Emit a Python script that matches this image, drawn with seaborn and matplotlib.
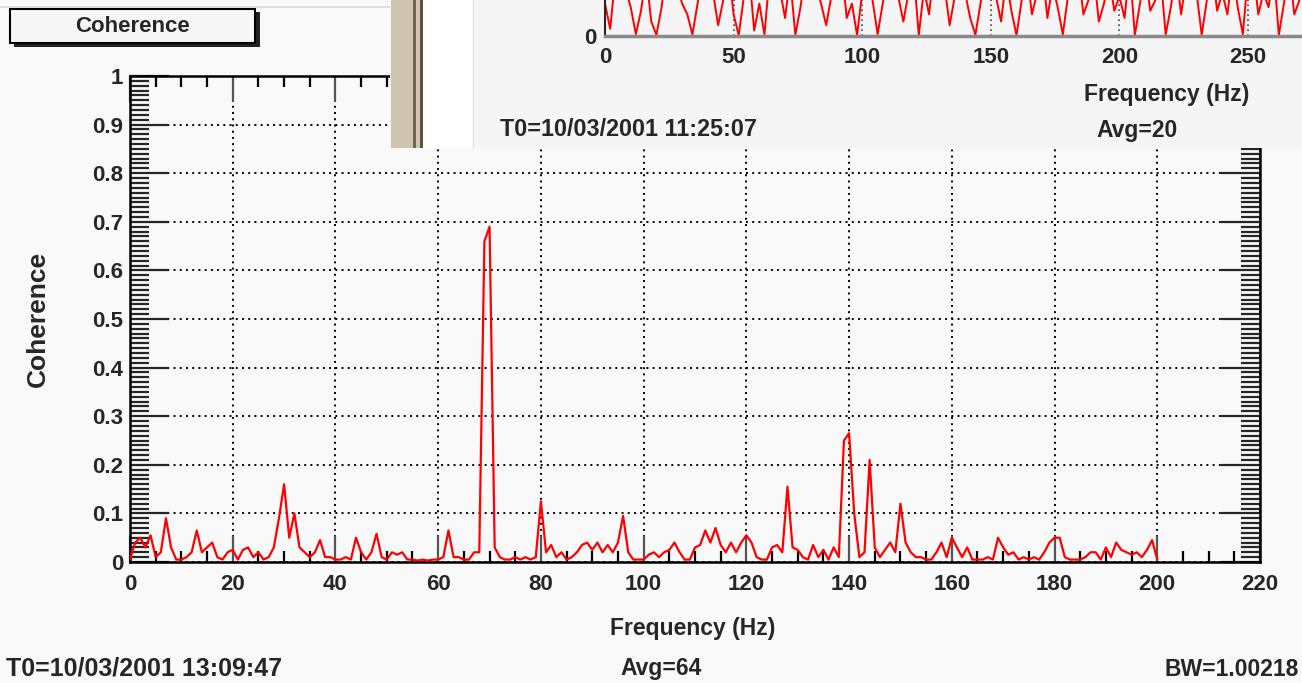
import matplotlib
matplotlib.use("Agg")
import matplotlib.pyplot as plt
from matplotlib.patches import Rectangle
from matplotlib.ticker import MultipleLocator
import seaborn as sns

# main coherence trace, 1 Hz steps, 0..200 Hz
freq = list(range(0, 201))
coherence = [
    0.005, 0.04, 0.05, 0.03, 0.055, 0.01, 0.02, 0.09, 0.03, 0.005,
    0.005, 0.01, 0.02, 0.065, 0.02, 0.03, 0.04, 0.01, 0.005, 0.02,
    0.025, 0.005, 0.025, 0.03, 0.01, 0.02, 0.005, 0.01, 0.03, 0.09,
    0.16, 0.05, 0.10, 0.03, 0.02, 0.01, 0.02, 0.045, 0.01, 0.01,
    0.005, 0.005, 0.01, 0.005, 0.05, 0.02, 0.005, 0.02, 0.058, 0.01,
    0.005, 0.02, 0.015, 0.02, 0.005, 0.005, 0.003, 0.005, 0.003, 0.005,
    0.005, 0.01, 0.065, 0.01, 0.01, 0.005, 0.005, 0.02, 0.02, 0.66,
    0.69, 0.03, 0.01, 0.005, 0.005, 0.01, 0.005, 0.01, 0.005, 0.01,
    0.125, 0.02, 0.035, 0.01, 0.02, 0.005, 0.01, 0.02, 0.035, 0.04,
    0.025, 0.04, 0.02, 0.035, 0.02, 0.04, 0.095, 0.02, 0.005, 0.005,
    0.005, 0.015, 0.02, 0.01, 0.02, 0.025, 0.04, 0.02, 0.005, 0.005,
    0.03, 0.035, 0.065, 0.04, 0.07, 0.035, 0.02, 0.04, 0.02, 0.04,
    0.055, 0.04, 0.01, 0.005, 0.005, 0.03, 0.035, 0.02, 0.155, 0.03,
    0.025, 0.01, 0.005, 0.035, 0.01, 0.025, 0.005, 0.03, 0.01, 0.25,
    0.265, 0.1, 0.01, 0.02, 0.21, 0.03, 0.01, 0.025, 0.04, 0.02,
    0.12, 0.04, 0.02, 0.01, 0.01, 0.005, 0.005, 0.02, 0.04, 0.01,
    0.05, 0.03, 0.01, 0.03, 0.005, 0.005, 0.005, 0.01, 0.005, 0.05,
    0.03, 0.015, 0.02, 0.005, 0.01, 0.005, 0.01, 0.005, 0.02, 0.04,
    0.05, 0.05, 0.01, 0.005, 0.005, 0.005, 0.01, 0.02, 0.02, 0.005,
    0.03, 0.01, 0.04, 0.025, 0.02, 0.015, 0.02, 0.01, 0.025, 0.045,
    0.005,
]

# trace of the window behind (only its bottom strip is visible), 2 Hz steps
top_freq = list(range(0, 273, 2))
top_values = [
    0.9, 0.2, 1.6, 1.8, 1.3, 0.8, 0.05, 0.7, 1.7, 0.4,
    0.03, 0.8, 1.9, 2.0, 1.4, 0.9, 0.6, 0.04, 0.9, 1.8,
    1.6, 1.2, 0.3, 1.0, 1.9, 0.6, 0.02, 1.1, 1.8, 0.15,
    0.9, 0.04, 1.7, 1.9, 1.3, 0.5, 1.6, 0.03, 0.8, 1.8,
    2.0, 1.4, 0.9, 0.3, 1.1, 1.8, 1.9, 0.5, 0.9, 0.02,
    1.2, 1.7, 1.0, 0.05, 0.9, 1.8, 2.0, 1.1, 0.4, 1.2,
    1.8, 0.02, 1.3, 0.6, 1.9, 1.7, 1.4, 0.3, 1.1, 1.7,
    1.2, 0.5, 0.03, 0.9, 1.8, 1.9, 1.1, 0.4, 1.6, 0.7,
    0.02, 1.0, 1.8, 0.6, 1.2, 1.9, 0.5, 1.4, 0.8, 0.04,
    1.1, 1.7, 1.9, 0.6, 1.0, 1.8, 0.4, 0.9, 1.7, 0.7,
    1.1, 0.5, 1.9, 0.02, 0.9, 1.8, 0.7, 1.0, 1.7, 0.04,
    0.8, 1.8, 0.6, 1.6, 1.9, 1.2, 0.03, 1.0, 1.9, 0.7,
    1.2, 0.6, 1.8, 0.8, 0.05, 1.7, 1.9, 0.6, 1.2, 0.8,
    1.8, 0.03, 0.9, 1.9, 0.6, 1.0, 1.8,
]

x_ticks = [0, 20, 40, 60, 80, 100, 120, 140, 160, 180, 200, 220]
y_ticks = [0, 0.1, 0.2, 0.3, 0.4, 0.5, 0.6, 0.7, 0.8, 0.9, 1]
y_tick_labels = ["0", "0.1", "0.2", "0.3", "0.4", "0.5", "0.6", "0.7", "0.8", "0.9", "1"]
top_x_ticks = [0, 50, 100, 150, 200, 250]

sns.set_style("white")
plt.rcParams["font.family"] = ["Liberation Sans", "DejaVu Sans"]
plt.rcParams["font.weight"] = "bold"

W, H = 1302, 683
BG = "#f9f9f9"
FS = 16

fig = plt.figure(figsize=(W / 100, H / 100), dpi=100, facecolor=BG)


def px_box(x0, y0, x1, y1):
    # pixel box (top-left origin) -> figure fraction rect
    return [x0 / W, 1 - y1 / H, (x1 - x0) / W, (y1 - y0) / H]


# ---- main plot ----
ax = fig.add_axes(px_box(130, 76, 1260, 562), zorder=1)
ax.set_facecolor(BG)
sns.lineplot(x=freq, y=coherence, ax=ax, color="#ff0000", linewidth=1.6, zorder=3)
ax.set_xlim(0, 220)
ax.set_ylim(0, 1)
ax.set_xticks(x_ticks)
ax.set_yticks(y_ticks)
ax.set_yticklabels(y_tick_labels)
ax.xaxis.set_minor_locator(MultipleLocator(5))
ax.yaxis.set_minor_locator(MultipleLocator(0.01))
ax.grid(which="major", color="black", linestyle=(0, (1, 2.2)), linewidth=1.4, zorder=1)
ax.tick_params(axis="x", which="major", direction="in", length=19, width=1.6,
               color="#555555", top=True, bottom=True, pad=9, labelsize=FS)
ax.tick_params(axis="x", which="minor", direction="in", length=8, width=1.6,
               color="black", top=True, bottom=True)
ax.tick_params(axis="y", which="major", direction="in", length=28, width=1.6,
               left=True, right=True, pad=5, labelsize=FS)
ax.tick_params(axis="y", which="minor", direction="in", length=14, width=1.6,
               left=True, right=True)
for sp in ax.spines.values():
    sp.set_linewidth(1.8)
    sp.set_color("black")
ax.set_xlabel("")
ax.set_ylabel("")
for lbl in ax.get_xticklabels() + ax.get_yticklabels():
    lbl.set_fontweight("bold")

# ---- decorations and texts in pixel space ----
deco = fig.add_axes([0, 0, 1, 1], zorder=5)
deco.set_xlim(0, W)
deco.set_ylim(H, 0)
deco.axis("off")
deco.patch.set_alpha(0)

# window border line at top left
deco.plot([0, 391], [7, 7], color="#d8d8d8", linewidth=1.2)

# title box with shadow
deco.add_patch(Rectangle((14, 12), 246, 35, facecolor="#222222", edgecolor="none"))
deco.add_patch(Rectangle((10, 9), 245, 34, facecolor="#f7f7f7", edgecolor="black", linewidth=1.5))
deco.text(133, 27, "Coherence", ha="center", va="center", fontsize=FS, fontweight="bold")

# axis titles and info line
deco.text(38, 319, "Coherence", ha="center", va="center", rotation=90,
          fontsize=19, fontweight="bold")
deco.text(693, 628, "Frequency (Hz)", ha="center", va="center", fontsize=16.5, fontweight="bold")
deco.text(6, 669, "T0=10/03/2001 13:09:47", ha="left", va="center", fontsize=18, fontweight="bold")
deco.text(661, 669, "Avg=64", ha="center", va="center", fontsize=16.5, fontweight="bold")
deco.text(1299, 669, "BW=1.00218", ha="right", va="center", fontsize=16.5, fontweight="bold")

# overlapping window in the top right
deco.add_patch(Rectangle((390, 0), W - 390, 148, facecolor="#f5f5f5", edgecolor="none", zorder=5))
deco.add_patch(Rectangle((391, 0), 22, 148, facecolor="#cfc4ae", edgecolor="none", zorder=6))
deco.add_patch(Rectangle((413, 0), 3, 148, facecolor="#6f6553", edgecolor="none", zorder=6))
deco.add_patch(Rectangle((416, 0), 4, 148, facecolor="#cfc4ae", edgecolor="none", zorder=6))
deco.add_patch(Rectangle((420, 0), 3, 148, facecolor="#5a5246", edgecolor="none", zorder=6))
deco.add_patch(Rectangle((423, 0), 50, 148, facecolor="#ffffff", edgecolor="none", zorder=6))
deco.plot([473, 473], [0, 148], color="#e2e2e2", linewidth=1.0, zorder=6)

deco.text(1167, 95, "Frequency (Hz)", ha="center", va="center", fontsize=16.5,
          fontweight="bold", zorder=8)
deco.text(500, 130, "T0=10/03/2001 11:25:07", ha="left", va="center", fontsize=16.8,
          fontweight="bold", zorder=8)
deco.text(1137, 130, "Avg=20", ha="center", va="center", fontsize=16.5,
          fontweight="bold", zorder=8)

# the plot of the overlapping window (only its lowest strip is in view)
px_per_hz = (1248 - 605) / 250
top = fig.add_axes(px_box(605, 0, 605 + 300 * px_per_hz, 36), zorder=6)
top.patch.set_alpha(0)
sns.lineplot(x=top_freq, y=top_values, ax=top, color="#ff0000", linewidth=1.4)
top.set_xlim(0, 300)
top.set_ylim(0, 1)
top.set_xticks(top_x_ticks)
top.set_yticks([0])
top.xaxis.set_minor_locator(MultipleLocator(10))
top.yaxis.set_minor_locator(MultipleLocator(0.2))
top.grid(axis="x", which="major", color="#444444", linestyle=(0, (1, 2)), linewidth=1.2)
top.tick_params(axis="x", which="major", direction="in", length=10, width=1.5,
                pad=8, labelsize=FS)
top.tick_params(axis="x", which="minor", direction="in", length=6, width=1.5)
top.tick_params(axis="y", which="both", direction="in", length=10, width=1.5,
                pad=6, labelsize=FS)
top.spines["top"].set_visible(False)
top.spines["right"].set_visible(False)
top.spines["bottom"].set_color("#8a8a8a")
top.spines["bottom"].set_linewidth(2.5)
top.spines["left"].set_linewidth(1.5)
top.set_xlabel("")
top.set_ylabel("")
for lbl in top.get_xticklabels() + top.get_yticklabels():
    lbl.set_fontweight("bold")

fig.savefig("out.png", dpi=100, facecolor=BG)
